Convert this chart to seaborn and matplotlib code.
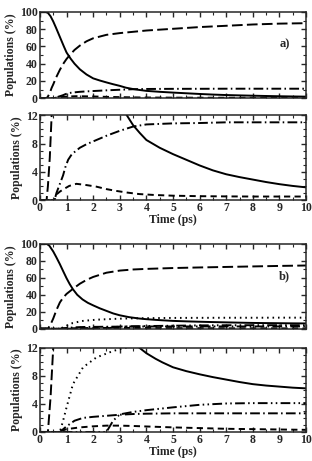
import matplotlib
matplotlib.use("Agg")
import matplotlib.pyplot as plt
from matplotlib.ticker import MultipleLocator
import pandas as pd
import seaborn as sns

#%% data (time in ps, populations in %)
# panel a)
a_t_solid = [0, 0.2, 0.3, 0.4, 0.5, 0.6, 0.75, 0.9, 1.0, 1.15, 1.3, 1.5, 1.75, 2, 2.25, 2.5, 2.75, 3, 3.23, 3.5, 3.75,
             4, 4.5, 5, 5.5, 6, 6.5, 7, 7.5, 8, 8.5, 9, 9.5, 10]
a_solid = [100, 100, 99, 95, 89, 82, 71, 60, 53, 46, 40, 33.5, 27.5, 23, 20.5, 18.3, 16.2, 14.3, 12.2, 10.6, 9.5,
           8.5, 7.4, 6.5, 5.7, 4.9, 4.2, 3.65, 3.25, 2.9, 2.55, 2.25, 2.0, 1.8]
a_t_long = [0, 0.25, 0.3, 0.37, 0.44, 0.5, 0.6, 0.75, 0.9, 1, 1.15, 1.3, 1.5, 1.75, 2, 2.5, 3, 3.5, 4, 5, 6, 7, 8, 9, 10]
a_long = [0, 0, 2, 6, 12, 16, 23.5, 33, 41, 45.5, 51, 56, 61, 66, 69.5, 73.5, 75.5, 77, 78.5, 80.5, 82.5, 84, 85.5, 86.5, 87]
a_t_dashdot = [0, 0.55, 0.62, 0.7, 0.8, 0.87, 0.95, 1.06, 1.2, 1.5, 1.75, 2, 2.5, 3, 3.5, 4, 5, 6, 7, 8, 9, 10]
a_dashdot = [0, 0, 1.0, 1.8, 2.8, 3.5, 4.6, 5.7, 6.5, 7.4, 7.9, 8.3, 9.1, 9.8, 10.4, 10.7, 10.85, 10.9, 11.0, 11.0, 11.0, 11.0]
a_t_short = [0, 0.55, 0.62, 0.75, 0.87, 1.1, 1.37, 1.7, 2.12, 2.5, 2.86, 3.3, 3.73, 4.3, 5, 6, 7, 8, 9, 10]
a_short = [0, 0, 0.8, 1.2, 1.5, 2.0, 2.3, 2.15, 1.9, 1.55, 1.3, 1.05, 0.85, 0.72, 0.62, 0.55, 0.52, 0.5, 0.5, 0.5]

# panel b)
b_t_solid = [0, 0.25, 0.35, 0.5, 0.62, 0.75, 0.87, 1.0, 1.12, 1.24, 1.4, 1.6, 1.8, 2, 2.25, 2.5, 2.75, 3, 3.35, 3.73,
             4, 4.35, 4.6, 5, 5.5, 6, 6.5, 7, 7.5, 8, 8.5, 9, 9.5, 10]
b_solid = [100, 100, 98, 91, 84, 76, 68, 59.5, 52.5, 46.5, 40, 34.5, 30.5, 27.5, 24, 21, 18, 15.8, 13.6, 12,
           11.2, 10.4, 9.9, 9.2, 8.65, 8.2, 7.8, 7.45, 7.1, 6.8, 6.6, 6.45, 6.3, 6.2]
b_t_long = [0, 0.3, 0.4, 0.5, 0.62, 0.75, 0.87, 1, 1.24, 1.5, 1.75, 2, 2.5, 3, 3.5, 4, 5, 6, 7, 8, 9, 10]
b_long = [0, 0, 5, 12, 22, 31, 36.5, 41, 47, 53, 57.5, 61, 66, 68.5, 69.8, 70.5, 71.5, 72.2, 72.8, 73.4, 74, 74.5]
b_t_dot = [0, 0.75, 0.87, 1.0, 1.24, 1.62, 2.12, 2.74, 3.1, 3.5, 4, 5, 6, 7, 8, 9, 10]
b_dot = [0, 0, 1.6, 3.5, 6.8, 9.2, 10.6, 11.5, 11.9, 12.2, 12.4, 12.7, 12.8, 12.9, 12.9, 13, 13]
b_t_dashdot = [0, 0.75, 1.0, 1.3, 1.62, 2, 2.5, 3, 3.5, 4, 5, 6, 7, 8, 9, 10]
b_dashdot = [0, 0, 0.8, 1.6, 2.0, 2.15, 2.3, 2.45, 2.55, 2.6, 2.65, 2.65, 2.65, 2.65, 2.65, 2.65]
b_t_dd = [0, 2.5, 2.75, 3.0, 3.5, 4, 4.5, 5, 6, 7, 8, 9, 10]
b_dd = [0, 0, 1.6, 2.5, 2.85, 3.1, 3.3, 3.5, 3.86, 4.05, 4.1, 4.1, 4.1]
b_t_short = [0, 0.7, 1.0, 1.5, 2, 2.5, 3, 3.5, 4, 5, 6, 7, 8, 9, 10]
b_short = [0, 0, 0.4, 0.65, 0.8, 0.9, 0.9, 0.85, 0.78, 0.65, 0.55, 0.45, 0.4, 0.35, 0.3]

#%% long form tables
def curves(pairs):
    frames = []
    for name, t, v in pairs:
        frames.append(pd.DataFrame({'t': t, 'pop': v, 'curve': name}))
    return pd.concat(frames, ignore_index=True)

df_a = curves([('solid', a_t_solid, a_solid), ('long', a_t_long, a_long),
               ('dashdot', a_t_dashdot, a_dashdot), ('short', a_t_short, a_short)])
df_b = curves([('solid', b_t_solid, b_solid), ('long', b_t_long, b_long),
               ('dot', b_t_dot, b_dot), ('dashdot', b_t_dashdot, b_dashdot),
               ('dashdotdot', b_t_dd, b_dd), ('short', b_t_short, b_short)])

dash_dict = {'solid': '', 'long': (5.5, 2.2), 'short': (3.2, 2.2),
             'dashdot': (5, 1.7, 0.8, 1.7), 'dot': (0.8, 2.0),
             'dashdotdot': (5, 1.7, 0.8, 1.7, 0.8, 1.7)}

#%% style
sns.set_style('ticks')
plt.rcParams['font.family'] = ['Liberation Serif', 'DejaVu Serif']
plt.rcParams['font.weight'] = 'bold'
plt.rcParams['axes.labelweight'] = 'bold'
plt.rcParams['axes.linewidth'] = 1.1
plt.rcParams['xtick.direction'] = 'in'
plt.rcParams['ytick.direction'] = 'in'
plt.rcParams['xtick.top'] = True
plt.rcParams['ytick.right'] = True

fig = plt.figure(figsize=(3.12, 4.61), dpi=100)
left, width = 0.128, 0.853
axes_pos = [(0.787, 0.187), (0.566, 0.184), (0.287, 0.184), (0.063, 0.183)]
axs = [fig.add_axes([left, b, width, h]) for b, h in axes_pos]

panels = [(df_a, 100, 'a)'), (df_a, 12, None), (df_b, 100, 'b)'), (df_b, 12, None)]
for i, (ax, (df, ymax, tag)) in enumerate(zip(axs, panels)):
    sns.lineplot(data=df, x='t', y='pop', style='curve', dashes=dash_dict,
                 color='k', linewidth=1.4, estimator=None, sort=False,
                 legend=False, ax=ax)
    ax.set_xlim(0, 10)
    ax.set_ylim(0, ymax)
    ax.xaxis.set_major_locator(MultipleLocator(1))
    ax.xaxis.set_minor_locator(MultipleLocator(0.5))
    if ymax == 100:
        ax.yaxis.set_major_locator(MultipleLocator(20))
        ax.yaxis.set_minor_locator(MultipleLocator(10))
    else:
        ax.yaxis.set_major_locator(MultipleLocator(4))
        ax.yaxis.set_minor_locator(MultipleLocator(1))
    ax.tick_params(which='major', length=3.5, width=1, labelsize=8.5, pad=1.5)
    ax.tick_params(which='minor', length=2, width=0.8)
    ax.set_ylabel('Populations (%)', fontsize=8.5, labelpad=2)
    if i % 2 == 0:
        ax.set_xlabel('')
        ax.tick_params(labelbottom=False)
        ax.text(9.2, 62, tag, fontsize=9, fontweight='bold', ha='center', va='center')
    else:
        ax.set_xlabel('Time (ps)', fontsize=8.5, labelpad=0)

plt.savefig('out.png', dpi=100)
